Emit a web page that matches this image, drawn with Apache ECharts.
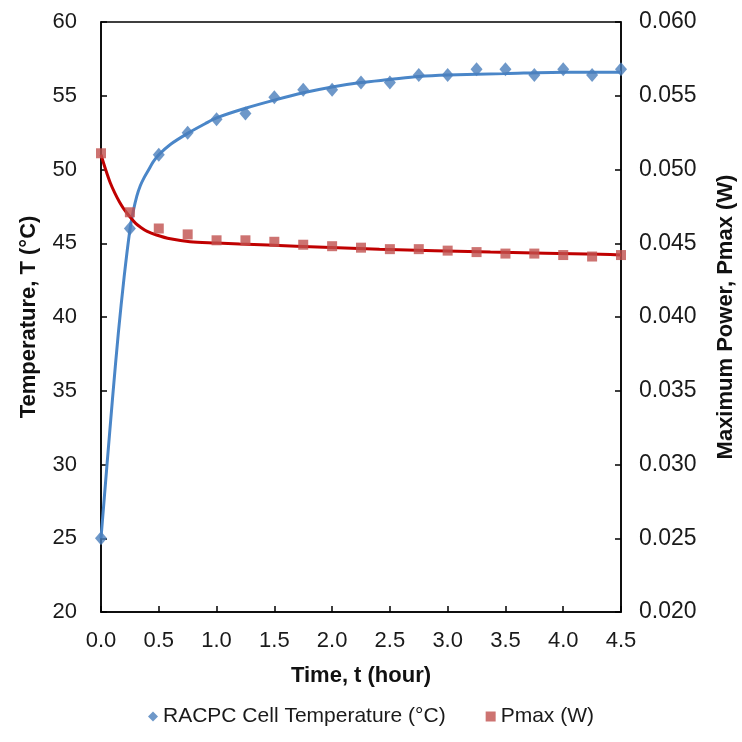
<!DOCTYPE html>
<html><head><meta charset="utf-8">
<script src="https://cdn.jsdelivr.net/npm/echarts@6/dist/echarts.min.js"></script>
<style>html,body{margin:0;padding:0;background:#fff}#c{width:742px;height:742px}</style>
</head><body><div id="c"></div>
<script>
const timeHours = [0,0.25,0.5,0.75,1.0,1.25,1.5,1.75,2.0,2.25,2.5,2.75,3.0,3.25,3.5,3.75,4.0,4.25,4.5];
const cellTemp = [25,46,51,52.5,53.4,53.8,54.9,55.4,55.4,55.9,55.9,56.4,56.4,56.8,56.8,56.4,56.8,56.4,56.8];
const pmax = [0.0511,0.0471,0.0460,0.0456,0.0452,0.0452,0.0451,0.0449,0.0448,0.0447,0.0446,0.0446,0.0445,0.0444,0.0443,0.0443,0.0442,0.0441,0.0442];
const tempFitTime = [0,0.05,0.1,0.15,0.2,0.25,0.28,0.31,0.34,0.37,0.41,0.45,0.5,0.6,0.75,0.9,1.0,1.25,1.5,1.75,2.0,2.25,2.5,2.75,3.0,3.5,4.0,4.5];
const tempFit = [25,29.8,34.5,38.9,42.7,45.9,47.2,48.2,48.9,49.4,49.95,50.5,51.0,51.7,52.45,53.1,53.5,54.15,54.7,55.2,55.6,55.9,56.1,56.3,56.4,56.5,56.6,56.6];
const pFitTime = [0,0.04,0.08,0.12,0.16,0.2,0.25,0.3,0.34,0.4,0.48,0.6,0.77,1.0,1.2,1.69,2.41,3.37,4.32,4.5];
const pFit = [0.0510,0.0500,0.0491,0.0484,0.0478,0.0473,0.0468,0.04635,0.0461,0.0458,0.04556,0.0453,0.0451,0.04502,0.04495,0.0448,0.0446,0.0444,0.04425,0.0442];
const xTicks = {min:0,max:4.5,step:0.5};
const tempTicks = {min:20,max:60,step:5};
const pTicks = {min:0.020,max:0.060,step:0.005};

const zip = (a,b)=>a.map((v,i)=>[v,b[i]]);
const font = 'Liberation Sans, Arial, sans-serif';
const chart = echarts.init(document.getElementById('c'));
const axisCommon = {
  axisLine:{show:true,lineStyle:{color:'#000',width:1.5}},
  axisTick:{show:true,inside:true,length:6,lineStyle:{color:'#000',width:1.5}},
  splitLine:{show:false},
  axisLabel:{color:'#1a1a1a',fontSize:22,fontFamily:font},
  nameTextStyle:{color:'#111',fontSize:22,fontWeight:'bold',fontFamily:font}
};
chart.setOption({
  animation:false,
  grid:{left:101,right:121,top:22,bottom:130,show:true,borderColor:'#000',borderWidth:1.5,containLabel:false,outerBoundsMode:'none'},
  legend:{bottom:10,left:'center',itemGap:40,itemWidth:10,itemHeight:10,
    textStyle:{fontSize:21,color:'#1a1a1a',fontFamily:font},
    data:[{name:'RACPC Cell Temperature (°C)',icon:'diamond'},{name:'Pmax (W)',icon:'rect'}]},
  xAxis:Object.assign({},axisCommon,{type:'value',min:xTicks.min,max:xTicks.max,interval:xTicks.step,
    name:'Time, t (hour)',nameLocation:'middle',nameGap:53,
    axisLabel:Object.assign({},axisCommon.axisLabel,{margin:18,formatter:v=>v.toFixed(1)})}),
  yAxis:[
    Object.assign({},axisCommon,{type:'value',min:tempTicks.min,max:tempTicks.max,interval:tempTicks.step,
      name:'Temperature, T (°C)',nameLocation:'middle',nameGap:61,nameRotate:90,
      axisLabel:Object.assign({},axisCommon.axisLabel,{margin:24})}),
    Object.assign({},axisCommon,{type:'value',position:'right',min:pTicks.min,max:pTicks.max,interval:pTicks.step,
      name:'Maximum Power, Pmax (W)',nameLocation:'middle',nameGap:94,nameRotate:90,
      axisLabel:Object.assign({},axisCommon.axisLabel,{margin:18,fontSize:23,formatter:v=>v.toFixed(3)})})
  ],
  series:[
    {name:'tempFit',type:'line',yAxisIndex:0,data:zip(tempFitTime,tempFit),smooth:0.3,showSymbol:false,
      lineStyle:{color:'#4a86c8',width:3},z:2},
    {name:'pFit',type:'line',yAxisIndex:1,data:zip(pFitTime,pFit),smooth:0.3,showSymbol:false,
      lineStyle:{color:'#c00000',width:3},z:2},
    {name:'RACPC Cell Temperature (°C)',type:'scatter',yAxisIndex:0,data:zip(timeHours,cellTemp),
      symbol:'diamond',symbolSize:[12,14],itemStyle:{color:'#4a7ebb'},z:3},
    {name:'Pmax (W)',type:'scatter',yAxisIndex:1,data:zip(timeHours,pmax),
      symbol:'rect',symbolSize:10,itemStyle:{color:'#c0504d'},z:3}
  ]
});
</script></body></html>
